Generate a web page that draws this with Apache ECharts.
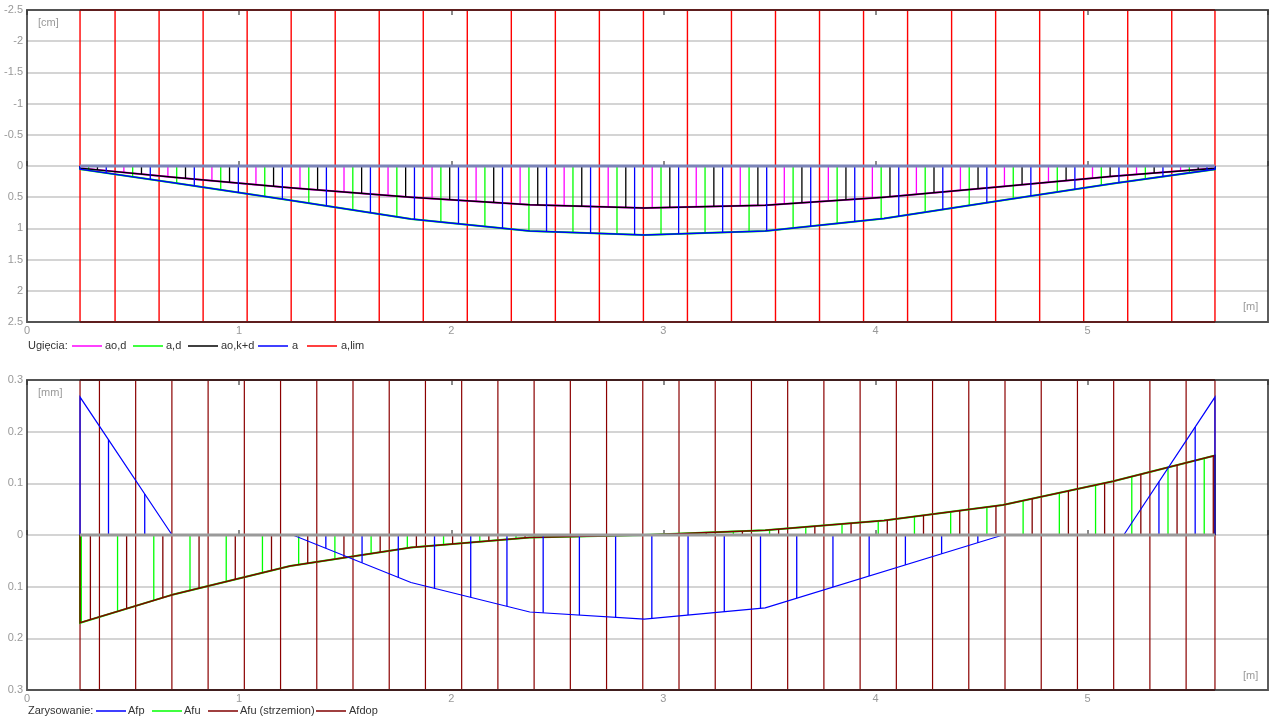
<!DOCTYPE html>
<html>
<head>
<meta charset="utf-8">
<script src="https://cdn.jsdelivr.net/npm/echarts@6/dist/echarts.min.js"></script>
<style>
  html, body { margin: 0; padding: 0; background: #fff; }
  #chart { width: 1276px; height: 720px; }
</style>
</head>
<body>
<div id="chart"></div>
<script>
// ---- Beam sections [m] ----
const sectionX = [0.25, 0.69, 1.24, 1.81, 2.37, 2.91, 3.48, 4.04, 4.60, 5.12, 5.60];

// ---- Deflections [cm], positive = downwards ----
const defAod  = [0.035, 0.18, 0.35, 0.50, 0.62, 0.675, 0.63, 0.50, 0.33, 0.165, 0.035];
const defAd   = [0.05, 0.27, 0.55, 0.85, 1.04, 1.107, 1.04, 0.84, 0.55, 0.28, 0.053];
const defAokd = [0.035, 0.18, 0.35, 0.50, 0.62, 0.675, 0.63, 0.50, 0.33, 0.165, 0.035];
const defA    = [0.05, 0.27, 0.55, 0.85, 1.04, 1.107, 1.04, 0.84, 0.55, 0.28, 0.053];
const aLim = 2.5;

// ---- Crack widths [mm], positive = upper face, negative = lower face ----
const afpX   = [0.25, 0.684, 1.253, 1.81, 2.37, 2.91, 3.48, 4.60, 5.17, 5.60];
const afpVal = [0.267, 0, 0, -0.092, -0.149, -0.163, -0.141, 0, 0, 0.267];
const afuVal    = [-0.170, -0.115, -0.060, -0.024, -0.005, 0, 0.009, 0.028, 0.058, 0.104, 0.154];
const afuStrVal = [-0.170, -0.115, -0.060, -0.024, -0.005, 0, 0.009, 0.028, 0.058, 0.104, 0.154];
const afDop = 0.3;

// ---- Axis scales ----
const xMax = 5.85;
const defRange = 2.5, defStep = 0.5;
const crackRange = 0.3, crackStep = 0.1;

// hatch pitch [m] of one full colour cycle in each panel
const hatchPitchTop = 0.20755;
const hatchPitchBottom = 0.17075;
const HATCH_W = 1.3;
const LIMIT_W_TOP = 1.4;
const LIMIT_W_BOTTOM = 1.2;

const FONT = '"Liberation Sans", Arial, sans-serif';

// panel frames (pixels)
const GRID_TOP = { left: 27, right: 8, top: 10, height: 312 };
const GRID_BOTTOM = { left: 27, right: 8, top: 380, height: 310 };
const CHART_W = 1276;

function interp(xs, vs, x) {
  if (x <= xs[0]) return vs[0];
  for (let i = 0; i < xs.length - 1; i++) {
    if (x <= xs[i + 1]) {
      return vs[i] + (vs[i + 1] - vs[i]) * (x - xs[i]) / (xs[i + 1] - xs[i]);
    }
  }
  return vs[vs.length - 1];
}

// positions of hatch strokes of one colour slot inside [x0, x1]
function hatchPositions(x0, x1, pitch, slot, slots) {
  const off = slot * pitch / slots;
  const out = [];
  const kStart = Math.ceil((x0 - off) / pitch - 1e-6);
  for (let k = kStart; ; k++) {
    const x = k * pitch + off;
    if (x > x1 + 1e-6) break;
    if (x >= x0 - 1e-6) out.push(x);
  }
  return out;
}

// diagram outline with vertical hatching down to the baseline
function curveSeries(name, xs, vals, color, lw, pitch, slot, slots, xAxisIndex, yAxisIndex) {
  return {
    type: 'custom', name, xAxisIndex, yAxisIndex, silent: true, data: [0],
    renderItem(params, api) {
      const children = [];
      hatchPositions(xs[0], xs[xs.length - 1], pitch, slot, slots).forEach(x => {
        const v = interp(xs, vals, x);
        if (Math.abs(v) < 1e-4) return;
        const p0 = api.coord([x, 0]);
        const p1 = api.coord([x, v]);
        children.push({ type: 'line', shape: { x1: p0[0], y1: p0[1], x2: p1[0], y2: p1[1] },
          style: { stroke: color, lineWidth: HATCH_W } });
      });
      const pts = [[xs[0], 0]].concat(xs.map((x, i) => [x, vals[i]]), [[xs[xs.length - 1], 0]])
        .map(p => api.coord(p));
      children.push({ type: 'polyline', shape: { points: pts },
        style: { stroke: color, lineWidth: lw, fill: null } });
      return { type: 'group', children };
    }
  };
}

// limit band: strokes over the full +/- limit height
function limitSeries(name, x0, x1, lim, color, lw, pitch, slots, xAxisIndex, yAxisIndex) {
  return {
    type: 'custom', name, xAxisIndex, yAxisIndex, silent: true, data: [0],
    renderItem(params, api) {
      const children = [];
      const xsAll = [x0].concat(hatchPositions(x0, x1, pitch, 0, slots), [x1]);
      xsAll.forEach(x => {
        const pa = api.coord([x, -lim]);
        const pb = api.coord([x, lim]);
        children.push({ type: 'line', shape: { x1: pa[0], y1: pa[1], x2: pb[0], y2: pb[1] },
          style: { stroke: color, lineWidth: lw } });
      });
      [-lim, lim].forEach(v => {
        const pa = api.coord([x0, v]);
        const pb = api.coord([x1, v]);
        children.push({ type: 'line', shape: { x1: pa[0], y1: pa[1], x2: pb[0], y2: pb[1] },
          style: { stroke: color, lineWidth: 2 } });
      });
      return { type: 'group', children };
    }
  };
}

function baselineSeries(x0, x1, color, xAxisIndex, yAxisIndex) {
  return {
    type: 'custom', xAxisIndex, yAxisIndex, silent: true, data: [0], z: 3,
    renderItem(params, api) {
      const pa = api.coord([x0, 0]);
      const pb = api.coord([x1, 0]);
      return { type: 'line', shape: { x1: pa[0], y1: pa[1], x2: pb[0], y2: pb[1] },
        style: { stroke: color, lineWidth: 3 } };
    }
  };
}

function xAxisCfg(gridIndex, position, showLabels) {
  return {
    type: 'value', gridIndex, position, min: 0, max: xMax, interval: 1,
    axisLine: { show: false },
    axisTick: { show: true, inside: true, length: 5, lineStyle: { color: '#666', width: 1.5 } },
    axisLabel: {
      show: showLabels, color: '#999', fontSize: 11, fontFamily: FONT, margin: 3,
      formatter: v => (Math.abs(v - Math.round(v)) < 1e-9 ? String(Math.round(v)) : '')
    },
    splitLine: { show: false }
  };
}

const x0 = sectionX[0], x1 = sectionX[sectionX.length - 1];

const legendTop = [
  { name: 'ao,d', color: '#ff00ff', lineX: 72, textX: 105 },
  { name: 'a,d', color: '#00ff00', lineX: 133, textX: 166 },
  { name: 'ao,k+d', color: '#000000', lineX: 188, textX: 221 },
  { name: 'a', color: '#0000ff', lineX: 258, textX: 292 },
  { name: 'a,lim', color: '#ff0000', lineX: 307, textX: 341 }
];
const legendBottom = [
  { name: 'Afp', color: '#0000ff', lineX: 96, textX: 128 },
  { name: 'Afu', color: '#00ff00', lineX: 152, textX: 184 },
  { name: 'Afu (strzemion)', color: '#800000', lineX: 208, textX: 240 },
  { name: 'Afdop', color: '#800000', lineX: 316, textX: 349 }
];

function legendGraphics(title, items, y) {
  const g = [{ type: 'text', left: 28, top: y - 6,
    style: { text: title, fill: '#333', font: '11px ' + FONT } }];
  items.forEach(it => {
    g.push({ type: 'line', shape: { x1: it.lineX, y1: y, x2: it.lineX + 30, y2: y },
      style: { stroke: it.color, lineWidth: 1.5 } });
    g.push({ type: 'text', left: it.textX, top: y - 6,
      style: { text: it.name, fill: '#333', font: '11px ' + FONT } });
  });
  return g;
}

function frameGraphic(g) {
  return { type: 'rect', z: 100, silent: true,
    shape: { x: g.left, y: g.top, width: CHART_W - g.left - g.right, height: g.height },
    style: { fill: null, stroke: 'rgba(40,40,40,0.75)', lineWidth: 2 } };
}

const unitText = (text, left, top) => ({ type: 'text', left, top,
  style: { text, fill: '#999', font: '11px ' + FONT } });

const option = {
  animation: false,
  backgroundColor: '#fff',
  grid: [
    Object.assign({ show: false }, GRID_TOP),
    Object.assign({ show: false }, GRID_BOTTOM)
  ],
  xAxis: [
    xAxisCfg(0, 'bottom', true),
    xAxisCfg(0, 'top', false),
    xAxisCfg(1, 'bottom', true),
    xAxisCfg(1, 'top', false)
  ],
  yAxis: [
    {
      type: 'value', gridIndex: 0, min: -defRange, max: defRange, interval: defStep, inverse: true,
      axisLine: { show: false }, axisTick: { show: false },
      axisLabel: { color: '#999', fontSize: 11, fontFamily: FONT, margin: 4 },
      splitLine: { lineStyle: { color: '#d4d4d4', width: 2 } }
    },
    {
      type: 'value', gridIndex: 1, min: -crackRange, max: crackRange, interval: crackStep,
      axisLine: { show: false }, axisTick: { show: false },
      axisLabel: { color: '#999', fontSize: 11, fontFamily: FONT, margin: 4,
        formatter: v => String(Number(Math.abs(v).toFixed(2))) },
      splitLine: { lineStyle: { color: '#d4d4d4', width: 2 } }
    }
  ],
  series: [
    limitSeries('a,lim', x0, x1, aLim, '#ff0000', LIMIT_W_TOP, hatchPitchTop, 5, 0, 0),
    curveSeries('ao,d', sectionX, defAod, '#ff00ff', 2, hatchPitchTop, 1, 5, 0, 0),
    curveSeries('a,d', sectionX, defAd, '#00ff00', 2, hatchPitchTop, 2, 5, 0, 0),
    curveSeries('ao,k+d', sectionX, defAokd, '#000000', 1.5, hatchPitchTop, 3, 5, 0, 0),
    curveSeries('a', sectionX, defA, '#0000ff', 1.5, hatchPitchTop, 4, 5, 0, 0),
    baselineSeries(x0, x1, '#7b84b8', 0, 0),

    limitSeries('Afdop', x0, x1, afDop, '#8b0000', LIMIT_W_BOTTOM, hatchPitchBottom, 4, 2, 1),
    curveSeries('Afu', sectionX, afuVal, '#00ff00', 2, hatchPitchBottom, 2, 4, 2, 1),
    curveSeries('Afu (strzemion)', sectionX, afuStrVal, '#800000', 1.5, hatchPitchBottom, 3, 4, 2, 1),
    curveSeries('Afp', afpX, afpVal, '#0000ff', 1.2, hatchPitchBottom, 1, 4, 2, 1),
    baselineSeries(x0, x1, '#9a9a9a', 2, 1)
  ],
  graphic: [
    frameGraphic(GRID_TOP),
    frameGraphic(GRID_BOTTOM),
    unitText('[cm]', 38, 17),
    unitText('[m]', 1243, 301),
    unitText('[mm]', 38, 387),
    unitText('[m]', 1243, 670)
  ].concat(legendGraphics('Ugięcia:', legendTop, 346), legendGraphics('Zarysowanie:', legendBottom, 711))
};

const chart = echarts.init(document.getElementById('chart'));
chart.setOption(option);
</script>
</body>
</html>
